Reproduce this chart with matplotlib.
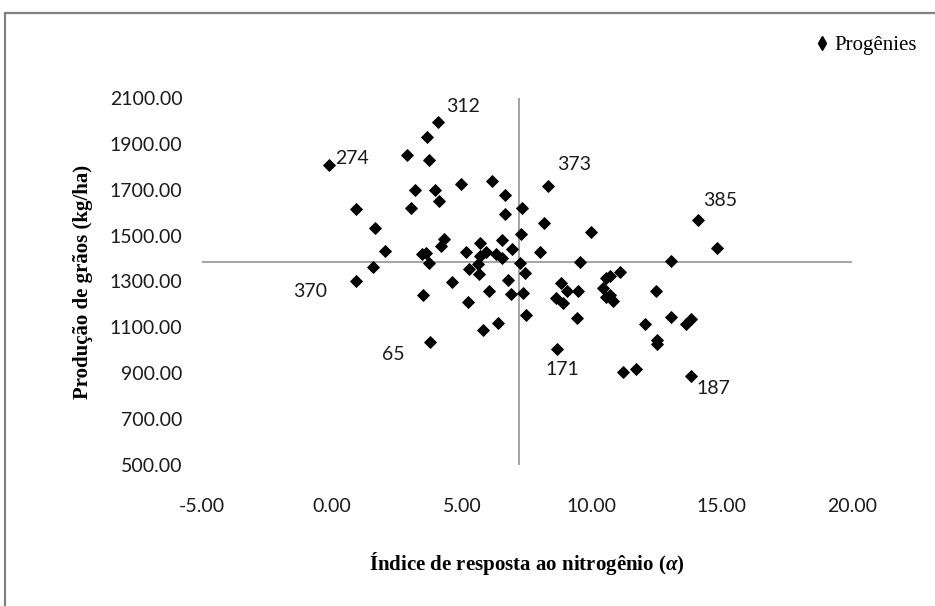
import matplotlib
matplotlib.use("Agg")
import matplotlib.pyplot as plt
from matplotlib.lines import Line2D
from matplotlib.patches import Rectangle

# alpha em itálico serifado no rótulo do eixo x
plt.rcParams["mathtext.fontset"] = "custom"
plt.rcParams["mathtext.it"] = "Liberation Serif:italic:bold"
plt.rcParams["mathtext.rm"] = "Liberation Serif:bold"

# índice de resposta ao nitrogênio (alpha) e produção de grãos (kg/ha) por progênie
alpha = [
    -0.10, 4.09, 3.64, 2.87, 3.73, 4.95, 6.14, 6.65, 7.31, 3.19,
    3.96, 4.12, 3.05, 6.67, 0.91, 1.65, 7.27, 2.03, 4.31, 4.18,
    5.14, 5.69, 5.91, 6.53, 6.91, 8.00, 3.45, 3.62, 3.74, 5.69,
    5.63, 6.30, 6.53, 1.59, 5.27, 5.65, 7.22, 7.42, 0.91, 4.63,
    6.76, 3.49, 6.04, 6.88, 7.36, 5.24, 7.45, 5.80, 6.40, 3.77,
    8.30, 8.17, 9.96, 14.09, 14.80, 9.54, 13.04, 11.10, 10.69, 10.54,
    8.80, 9.03, 9.45, 10.43, 12.45, 8.62, 8.90, 10.69, 10.82, 10.54,
    9.41, 12.04, 13.04, 13.64, 13.83, 12.49, 12.49, 8.64, 11.20, 11.69,
    13.83,
]
producao = [
    1807, 1995, 1931, 1852, 1830, 1725, 1739, 1677, 1622, 1699,
    1699, 1652, 1622, 1594, 1615, 1535, 1506, 1433, 1485, 1456,
    1430, 1467, 1430, 1481, 1440, 1427, 1419, 1423, 1382, 1413,
    1376, 1420, 1401, 1362, 1355, 1333, 1382, 1338, 1304, 1299,
    1307, 1241, 1260, 1246, 1249, 1212, 1154, 1089, 1118, 1035,
    1718, 1554, 1517, 1568, 1445, 1386, 1391, 1343, 1325, 1314,
    1295, 1259, 1259, 1270, 1259, 1227, 1205, 1241, 1215, 1234,
    1140, 1114, 1144, 1114, 1137, 1045, 1028, 1005, 907, 917,
    888,
]

# progênies identificadas no gráfico (índice na lista -> número da progênie)
destaques = {0: "274", 1: "312", 38: "370", 50: "373", 53: "385",
             49: "65", 77: "171", 80: "187"}
offsets = {"274": (16, 5), "312": (18, 11), "370": (-33, -8), "373": (19, 15),
           "385": (16, 14), "65": (-26, -9), "171": (4, -15), "187": (16, -9)}

# médias usadas para dividir os quadrantes
media_alpha = 7.19
media_prod = 1385

xticks = [-5, 0, 5, 10, 15, 20]
yticks = [500, 700, 900, 1100, 1300, 1500, 1700, 1900, 2100]

fig = plt.figure(figsize=(9.35, 6.06), dpi=100)
ax = fig.add_axes([0.216, 0.2327, 0.695, 0.6056])

ax.plot(alpha, producao, linestyle="none", marker="D", markersize=6,
        color="black", markeredgewidth=0.6, zorder=3)

ax.axvline(media_alpha, color="#8c8c8c", lw=1.1, zorder=1)
ax.axhline(media_prod, color="#8c8c8c", lw=1.1, zorder=1)

for i, nome in destaques.items():
    ax.annotate(nome, (alpha[i], producao[i]), xytext=offsets[nome],
                textcoords="offset points", ha="center", va="center",
                fontsize=14, family="Lato", color="#1a1a1a")

ax.set_xlim(-5, 20)
ax.set_ylim(500, 2100)
ax.set_xticks(xticks)
ax.set_yticks(yticks)
ax.set_xticklabels([f"{v:.2f}" for v in xticks])
ax.set_yticklabels([f"{v:.2f}" for v in yticks])
ax.tick_params(length=0, labelsize=14, labelcolor="#1a1a1a")
ax.tick_params(axis="x", pad=24)
ax.tick_params(axis="y", pad=14)
for lab in ax.get_xticklabels() + ax.get_yticklabels():
    lab.set_family("Lato")
for s in ax.spines.values():
    s.set_visible(False)

ax.set_xlabel("Índice de resposta ao nitrogênio ($\\mathit{\\alpha}$)",
              family="Liberation Serif", fontweight="bold", fontsize=15,
              labelpad=25)
ax.set_ylabel("Produção de grãos (kg/ha)", family="Liberation Serif",
              fontweight="bold", fontsize=15, labelpad=12)

proxy = Line2D([], [], linestyle="none", marker="d", markersize=7,
               color="black")
fig.legend([proxy], ["Progênies"], loc="center right",
           bbox_to_anchor=(0.99, 0.925), frameon=False, handlelength=0.6,
           handletextpad=0.3, borderaxespad=0,
           prop={"family": "Liberation Serif", "size": 15})

# moldura cinza da área do gráfico
fig.patches.append(Rectangle((5 / 935, -0.2), 1.2, 1.2 - 13 / 606,
                             transform=fig.transFigure, fill=False,
                             edgecolor="#808080", lw=1.6))

fig.savefig("out.png", dpi=100)
